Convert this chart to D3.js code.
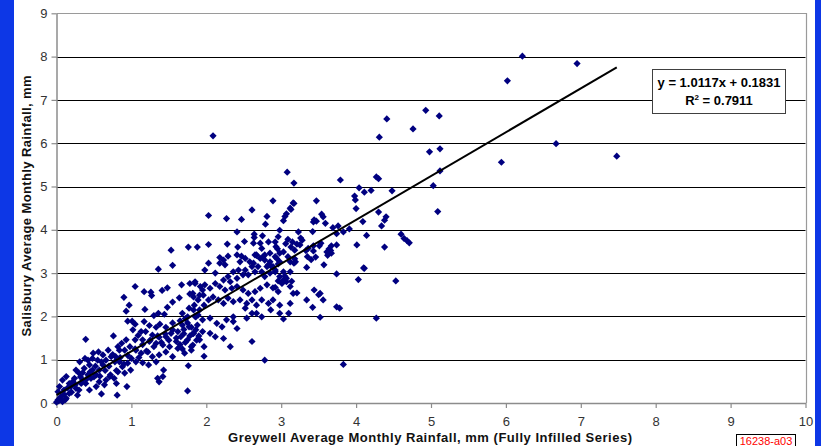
<!DOCTYPE html>
<html>
<head>
<meta charset="utf-8">
<script src="https://cdn.jsdelivr.net/npm/d3@7"></script>
<style>
  html, body { margin: 0; padding: 0; background: #ffffff; }
  svg { display: block; }
  text { font-family: "Liberation Sans", Arial, sans-serif; }
</style>
</head>
<body>
<svg id="chart" width="821" height="446"></svg>
<script>
// Monthly average rainfall pairs: [Greywell (mm), Salisbury (mm)]
const rainfallPairs = [
  [6.22,8.01],[6.95,7.84],[6.02,7.44],[6.67,5.99],[7.48,5.70],[5.94,5.56],
  [2.09,6.17],
  [4.93,6.76],[4.41,6.56],[5.11,6.63],[4.76,6.33],[4.31,6.14],[4.98,5.80],[5.12,5.87],[5.12,5.36],
  [3.08,5.33],[3.17,5.08],[3.79,5.15],[4.27,5.22],[4.30,5.18],[5.03,5.02],[5.09,4.42],
  [4.04,4.97],[4.11,4.87],[4.20,4.91],[4.48,4.90],[3.98,4.78],[3.99,4.69],[4.00,4.49],
  [2.89,4.67],[3.16,4.62],[3.47,4.67],[2.61,4.46],[3.13,4.47],[3.07,4.37],[3.05,4.31],[3.03,4.21],
  [2.81,4.31],[2.79,4.13],[3.54,4.36],[3.56,4.30],[3.59,4.15],[3.44,4.23],[3.43,4.18],[3.47,4.20],
  [4.09,4.19],[4.30,4.41],[4.40,4.30],[4.38,4.22],[4.34,4.09],
  [3.69,4.05],[3.76,4.09],[3.74,3.91],[3.83,3.95],[3.91,4.02],[4.14,3.87],
  [4.60,3.90],[4.64,3.80],[4.68,3.75],[4.71,3.70],[4.01,3.65],[4.38,3.60],[4.10,3.12],
  [3.23,3.95],[3.26,3.81],[3.28,3.76],[3.42,3.96],[2.64,3.90],[2.64,3.82],[2.75,3.86],
  [2.98,3.99],[2.96,3.84],[2.92,3.72],[2.83,3.72],[2.95,3.56],
  [3.09,3.78],[3.06,3.68],[3.15,3.72],[3.13,3.60],[3.21,3.67],[3.53,3.69],[3.51,3.63],[3.43,3.63],[3.43,3.51],
  [3.67,3.63],[3.64,3.56],[3.66,3.52],[3.62,3.41],[3.57,3.19],[3.33,3.52],[3.35,3.38],[3.46,3.37],[3.40,3.31],
  [3.09,3.38],[3.18,3.33],[3.17,3.23],
  [2.03,4.33],[2.27,4.26],[2.47,4.24],[2.41,3.95],[1.53,3.53],[1.76,3.60],[1.88,3.60],[2.03,3.66],
  [2.28,3.67],[2.42,3.60],[2.51,3.73],[2.18,3.36],[2.29,3.39],[2.47,3.39],[2.67,3.41],
  [4.11,3.11],[4.03,2.85],[4.53,2.82],[3.74,2.98],[3.34,3.13],[3.19,3.26],[3.44,2.61],[3.50,2.50],
  [3.21,2.54],[3.14,2.81],[3.05,2.93],[3.03,2.84],[3.01,2.78],[2.96,2.82],[2.89,2.66],[2.92,2.67],
  [2.87,3.15],[2.92,3.07],[2.96,3.21],[2.86,2.15],[3.42,2.21],[3.78,2.19],[3.10,2.07],[3.03,1.94],
  [3.52,1.98],[4.27,1.96],[3.83,0.89],
  [1.55,3.18],[1.36,3.09],[1.05,2.69],[1.17,2.57],[1.26,2.56],[1.27,2.48],[1.41,2.60],[1.48,2.66],
  [1.67,2.73],[1.85,2.76],[0.90,2.44],[0.97,2.26],[0.93,2.12],[1.18,2.16],[1.48,2.21],[1.55,2.33],
  [1.64,2.43],[1.78,2.52],[0.95,1.89],[1.01,1.89],[1.30,2.02],[1.36,2.07],[1.44,2.05],[0.39,1.47],
  [0.76,1.55],[0.69,1.22],[0.75,1.12],[0.82,1.30],[0.84,1.22],
  [1.05,1.82],[1.02,1.69],[1.09,1.56],[1.13,1.65],[1.05,1.46],[0.93,1.46],[0.98,1.30],[0.91,1.22],[0.87,1.38],
  [1.17,1.88],[1.24,1.79],[1.33,1.75],[1.38,1.82],[1.46,1.75],[1.55,1.69],
  [1.19,1.65],[1.28,1.57],[1.37,1.52],[1.46,1.53],[1.53,1.61],
  [1.15,1.46],[1.24,1.42],[1.33,1.38],[1.42,1.34],[1.51,1.30],
  [1.06,1.22],[1.13,1.15],[1.22,1.18],[1.28,1.07],[1.37,1.11],[1.46,1.18],
  [1.00,1.03],[1.06,0.95],[1.15,0.93],[1.23,0.88],[1.33,0.95],
  [0.84,0.95],[0.88,0.84],[0.82,0.72],[0.91,0.69],[0.95,0.92],[0.99,0.76],
  [1.43,0.76],[1.35,0.57],[1.75,0.28],[1.76,0.86],[0.81,0.18],[0.60,0.21],[0.94,0.38],[0.80,0.45],
  [0.08,0.53],[0.13,0.61],[0.04,0.38],[0.02,0.26],[0.17,0.45],[0.24,0.57],[0.30,0.69],[0.26,0.76],
  [0.37,0.80],[0.44,0.88],[0.48,0.76],[0.53,0.65],[0.42,0.65],[0.35,0.53],[0.33,0.45],[0.19,0.38],
  [0.10,0.30],[0.06,0.15],[0.17,0.22],[0.26,0.34],[0.39,0.45],[0.46,0.57],[0.57,0.76],[0.62,0.88],
  [0.66,0.99],[0.55,0.99],[0.48,1.03],[0.42,0.99],[0.73,1.07],[0.79,1.07],
  [0.57,0.49],[0.66,0.53],[0.71,0.61],[0.77,0.57],[0.64,0.42],[0.53,0.38],[0.44,0.30],[0.28,0.18],
  [0.13,0.11],[0.02,0.07],[0.08,0.03],
  [1.82,2.53],[1.91,2.49],[1.95,2.61],[1.84,2.26],[1.77,2.19],[1.91,2.15],[1.97,2.26],[1.68,2.07],
  [1.75,1.99],[1.86,1.99],[1.95,1.92],[1.68,1.80],[1.77,1.76],[1.86,1.69],[1.95,1.65],[1.62,1.65],
  [1.66,1.53],[1.75,1.46],[1.82,1.34],[1.91,1.46],[1.97,1.30],[1.80,1.22],[1.60,1.42],[1.62,1.26],
  [1.71,1.15],[1.55,1.07],[1.97,1.08],[1.37,0.49],[1.42,0.61],
  [3.12,3.26],[3.18,3.53],
  [2.23,3.30],[2.18,3.23],[2.25,3.19],[2.03,3.23],[1.98,3.07],[2.12,3.00],
  [2.41,3.42],[2.45,3.26],[2.52,3.34],[2.58,3.26],[2.65,3.42],[2.72,3.34],[2.78,3.42],[2.85,3.26],
  [2.94,3.34],[2.98,3.46],[3.03,3.49],[2.89,3.15],[2.81,3.15],[2.69,3.15],[2.61,3.15],[2.52,3.07],
  [2.43,3.07],[2.36,3.03],[2.29,2.92],[2.23,2.84],[2.32,2.80],[2.41,2.88],[2.49,2.96],[2.56,2.96],
  [2.65,3.03],[2.74,3.03],[2.78,2.92],[2.85,3.00],[2.92,3.03],[2.98,2.92],[3.01,2.76],[3.07,2.88],
  [3.03,3.03],[3.12,3.03],
  [1.78,2.76],[1.85,2.80],[1.92,2.69],[1.98,2.73],[2.05,2.65],[2.12,2.76],[2.18,2.69],[2.25,2.61],
  [2.34,2.65],[2.41,2.69],[2.49,2.61],[2.56,2.53],[2.65,2.57],[2.72,2.65],[2.81,2.73],[2.96,2.57],
  [3.12,2.69],
  [1.83,2.45],[1.89,2.38],[1.96,2.49],[2.03,2.38],[2.09,2.45],[2.16,2.38],[2.23,2.30],[2.29,2.42],
  [2.36,2.34],[2.45,2.38],[2.54,2.30],[2.61,2.38],[2.67,2.26],[2.74,2.38],[2.83,2.30],[2.89,2.38],
  [2.98,2.26],[3.12,2.30],[3.34,2.38],[3.52,2.53],[3.56,2.38],[3.74,2.22],[2.61,2.07],[2.74,1.99],
  [1.83,2.15],[1.89,2.03],[2.05,1.96],[2.14,1.84],[2.21,1.76],[2.27,1.92],[2.36,1.99],[2.41,1.72],
  [2.61,1.42],[2.78,0.99],[1.87,1.45],[1.83,1.61],[2.05,1.61],[2.12,1.53],[2.23,1.49],[2.32,1.30],
  [0.38,1.03],[0.49,1.15],[0.56,1.18],[0.62,1.11],[0.31,0.95],
  [2.36,1.88],[2.54,1.96],[2.52,2.19],[2.67,2.07],[2.98,2.07],[3.16,2.53],[3.07,2.80],
  [2.67,3.42],[2.74,3.57],[2.76,3.38],[2.78,3.30],[2.83,3.19],[2.63,3.23],[2.85,3.46],[2.92,3.38],[2.98,3.26],
  [2.63,3.69],[2.72,3.69],[2.93,3.61],[3.25,3.65],[3.36,3.57],[3.67,3.46],[3.61,3.49],[3.74,3.65],[3.17,4.61],[3.12,4.50],
  [0.00,0.02],[0.03,0.05],[0.05,0.12],[0.10,0.20],[0.12,0.08],[0.15,0.35],[0.20,0.25],[0.22,0.50],
  [0.25,0.42],[0.30,0.30],[0.32,0.60],[0.35,0.70],[0.40,0.55],[0.45,0.72],[0.50,0.60],[0.52,0.85],
  [0.58,0.62],[0.60,0.95],[0.65,0.75],[0.70,0.85],[0.72,0.65],[0.78,0.95],[0.80,0.75],[0.85,1.05],
  [0.90,0.90],[0.95,1.10],[1.05,1.25],[1.10,1.05],[1.15,1.35],[1.20,1.20],[1.25,1.45],[1.30,1.30],
  [1.35,1.55],[1.40,1.40],[1.45,1.60],[1.50,1.45],[1.55,1.85],[1.60,1.50],[1.65,1.90],[1.70,1.60],
  [1.72,1.95],[1.80,1.75],[1.85,2.00],
  [1.65,1.35],[1.70,1.70],[1.72,1.40],[1.78,1.55],[1.80,1.30],[1.82,1.60],[1.68,1.25],[1.75,1.85],
  [1.90,1.55],[1.88,1.80]
];

// Linear fit reported for the series
const fitSlope = 1.0117;
const fitIntercept = 0.1831;
const fitR2 = 0.7911;

const xTicks = [0, 1, 2, 3, 4, 5, 6, 7, 8, 9, 10];
const yTicks = [0, 1, 2, 3, 4, 5, 6, 7, 8, 9];
const gridValues = [1, 2, 3, 4, 5, 6, 7, 8];

const xTitle = "Greywell Average Monthly Rainfall, mm (Fully Infilled Series)";
const yTitle = "Salisbury Average Monthly Rainfall, mm";
const refCode = "16238-a03";

const svg = d3.select("#chart");
const W = 821, H = 446;
const plot = { left: 56.5, right: 805.5, top: 13.3, bottom: 403 };

const x = d3.scaleLinear().domain([0, 10]).range([plot.left, plot.right]);
const y = d3.scaleLinear().domain([0, 9]).range([plot.bottom, plot.top]);

// page frame: white sheet with blue side bands
svg.append("rect").attr("x", 0).attr("y", 0).attr("width", W).attr("height", H).attr("fill", "#ffffff");
svg.append("rect").attr("x", 0).attr("y", 0).attr("width", 14).attr("height", H).attr("fill", "#0d37e6");
svg.append("rect").attr("x", 815).attr("y", 0).attr("width", W - 815).attr("height", H).attr("fill", "#0d37e6");

// horizontal gridlines
svg.append("g")
  .selectAll("line")
  .data(gridValues)
  .join("line")
  .attr("x1", plot.left).attr("x2", plot.right)
  .attr("y1", d => Math.round(y(d)) + 0.5).attr("y2", d => Math.round(y(d)) + 0.5)
  .attr("stroke", "#000000").attr("stroke-width", 1.2);

// plot border (top and right)
svg.append("path")
  .attr("d", `M${plot.left},${Math.round(plot.top) + 0.5}H${Math.round(plot.right) + 0.5}V${plot.bottom}`)
  .attr("fill", "none").attr("stroke", "#9a9a9a").attr("stroke-width", 1.2);

// axes
const xAxis = d3.axisBottom(x).tickValues(xTicks).tickFormat(d3.format("d"))
  .tickSize(5).tickSizeOuter(0).tickPadding(9);
const yAxis = d3.axisLeft(y).tickValues(yTicks).tickFormat(d3.format("d"))
  .tickSize(5).tickSizeOuter(0).tickPadding(4);

const gx = svg.append("g").attr("transform", `translate(0,${plot.bottom})`).call(xAxis);
const gy = svg.append("g").attr("transform", `translate(${plot.left},0)`).call(yAxis);

[gx, gy].forEach(g => {
  g.select(".domain").attr("stroke", "#8c8c8c").attr("stroke-width", 1.5);
  g.selectAll(".tick line").attr("stroke", "#8c8c8c").attr("stroke-width", 1.2);
  g.selectAll(".tick text")
    .attr("fill", "#333333")
    .style("font-family", "'Liberation Sans', Arial, sans-serif")
    .style("font-size", "13px");
});

// scatter markers (diamonds)
const diamond = "M0,-3.6L3.6,0L0,3.6L-3.6,0Z";
svg.append("g")
  .selectAll("path")
  .data(rainfallPairs)
  .join("path")
  .attr("d", diamond)
  .attr("transform", d => `translate(${x(d[0])},${y(d[1])})`)
  .attr("fill", "#000080");

// fitted trendline over the data range
const xMin = d3.min(rainfallPairs, d => d[0]);
const xMax = d3.max(rainfallPairs, d => d[0]);
svg.append("line")
  .attr("x1", x(xMin)).attr("y1", y(fitSlope * xMin + fitIntercept))
  .attr("x2", x(xMax)).attr("y2", y(fitSlope * xMax + fitIntercept))
  .attr("stroke", "#000000").attr("stroke-width", 2);

// equation box
const eq = svg.append("g");
eq.append("rect")
  .attr("x", 652.5).attr("y", 69.5).attr("width", 133).attr("height", 44)
  .attr("fill", "#ffffff").attr("stroke", "#404040").attr("stroke-width", 1);
eq.append("text")
  .attr("x", 719).attr("y", 86.5)
  .attr("text-anchor", "middle")
  .style("font-size", "13px").style("font-weight", "bold").attr("fill", "#000")
  .text(`y = ${fitSlope.toFixed(4)}x + ${fitIntercept.toFixed(4)}`);
const r2 = eq.append("text")
  .attr("x", 719).attr("y", 105)
  .attr("text-anchor", "middle")
  .style("font-size", "13px").style("font-weight", "bold").attr("fill", "#000");
r2.append("tspan").text("R");
r2.append("tspan").attr("dy", -5).style("font-size", "8px").text("2");
r2.append("tspan").attr("dy", 5).text(` = ${fitR2.toFixed(4)}`);

// axis titles
svg.append("text")
  .attr("x", 430).attr("y", 442)
  .attr("text-anchor", "middle")
  .attr("textLength", 404).attr("lengthAdjust", "spacing")
  .style("font-size", "13px").style("font-weight", "bold").attr("fill", "#111")
  .text(xTitle);
svg.append("text")
  .attr("transform", "translate(31,206) rotate(-90)")
  .attr("text-anchor", "middle")
  .attr("textLength", 261).attr("lengthAdjust", "spacing")
  .style("font-size", "13px").style("font-weight", "bold").attr("fill", "#111")
  .text(yTitle);

// drawing reference tag
svg.append("rect")
  .attr("x", 736.5).attr("y", 434.5).attr("width", 59).attr("height", 14)
  .attr("fill", "#ffffff").attr("stroke", "#000").attr("stroke-width", 1);
svg.append("text")
  .attr("x", 766).attr("y", 445)
  .attr("text-anchor", "middle")
  .style("font-size", "11px").attr("fill", "#ff0000")
  .text(refCode);
</script>
</body>
</html>
